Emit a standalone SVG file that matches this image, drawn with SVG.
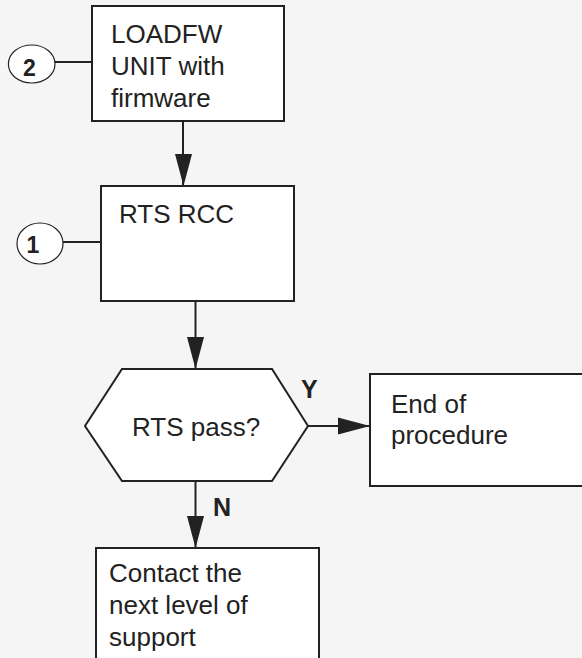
<svg xmlns="http://www.w3.org/2000/svg" width="582" height="658" viewBox="0 0 582 658">
<defs>
<style>
.bg{fill:#f5f5f5}
.box{fill:#fff;stroke:#222;stroke-width:2}
.ell{fill:#fff;stroke:#222;stroke-width:1.2}
.ln{fill:none;stroke:#222;stroke-width:2}
.t{font-family:"Liberation Sans",Arial,sans-serif;font-size:26px;fill:#222}
.b{font-family:"Liberation Sans",Arial,sans-serif;font-size:25px;font-weight:bold;fill:#222}
.n{font-family:"Liberation Sans",Arial,sans-serif;font-size:23px;font-weight:bold;fill:#222}
</style>
</defs>
<rect class="bg" x="0" y="0" width="582" height="658"/>
<g id="connectors">
<line class="ln" x1="55" y1="62" x2="92" y2="62"/>
<line class="ln" x1="63" y1="242" x2="101" y2="242"/>
<path d="M183,121 L183,186" class="ln"/>
<polygon points="175,154 192,154 183.5,186" fill="#222"/>
<path d="M195.5,301 L195.5,369" class="ln"/>
<polygon points="187,337 204,337 195.5,369" fill="#222"/>
<path d="M308,426 L370,426" class="ln"/>
<polygon points="338,417.5 338,434.5 370,426" fill="#222"/>
<path d="M195.5,481 L195.5,548" class="ln"/>
<polygon points="187,516 204,516 195.5,548" fill="#222"/>
<text class="b" x="301" y="398">Y</text>
<text class="b" x="213" y="515.5">N</text>
</g>
<g id="c2">
<ellipse class="ell" cx="31.7" cy="64" rx="23.3" ry="19"/>
<text class="n" x="29.3" y="76" text-anchor="middle">2</text>
</g>
<g id="c1">
<ellipse class="ell" cx="40" cy="243.5" rx="23" ry="20.5"/>
<text class="n" x="33" y="252.5" text-anchor="middle">1</text>
</g>
<g id="loadfw">
<rect class="box" x="92" y="6" width="192" height="115"/>
<text class="t" x="111" y="43">LOADFW</text>
<text class="t" x="111" y="75">UNIT with</text>
<text class="t" x="111" y="107">firmware</text>
</g>
<g id="rts">
<rect class="box" x="101" y="186" width="193" height="115"/>
<text class="t" x="119" y="223">RTS RCC</text>
</g>
<g id="decision">
<polygon class="box" points="122,369 272,369 308,426 272,481 122,481 85,426"/>
<text class="t" x="132" y="436">RTS pass?</text>
</g>
<g id="end">
<rect class="box" x="370" y="374" width="230" height="112"/>
<text class="t" x="391" y="413">End of</text>
<text class="t" x="391" y="444">procedure</text>
</g>
<g id="contact">
<rect class="box" x="96" y="548" width="223" height="130"/>
<text class="t" x="109" y="582">Contact the</text>
<text class="t" x="109" y="614">next level of</text>
<text class="t" x="109" y="646">support</text>
</g>
</svg>
